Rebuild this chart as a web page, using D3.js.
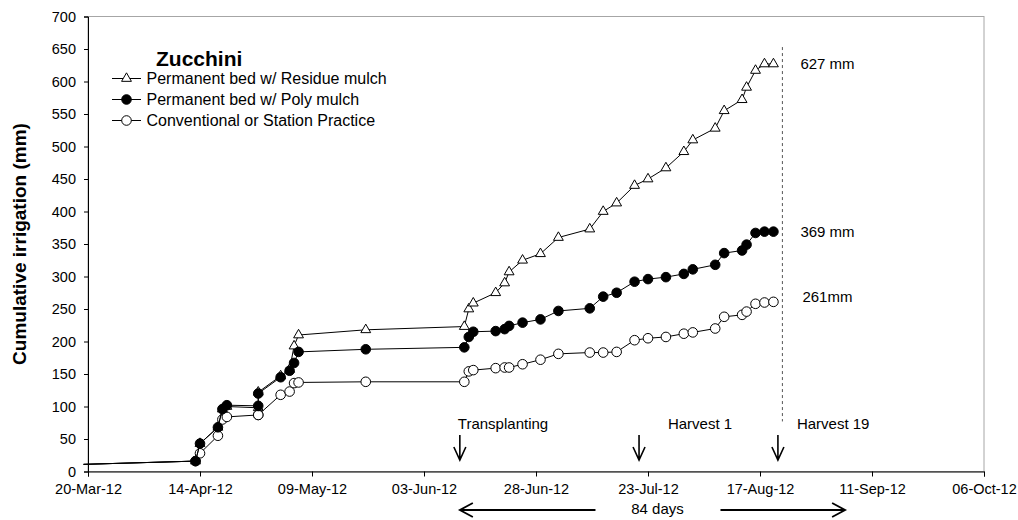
<!DOCTYPE html>
<html>
<head>
<meta charset="utf-8">
<script src="https://cdn.jsdelivr.net/npm/d3@7"></script>
<style>
  body { margin: 0; background: #fff; }
  text { font-family: "Liberation Sans", Arial, sans-serif; }
</style>
</head>
<body>
<div id="chart"></div>
<script>
const width = 1018
const height = 520
const margin = { top: 16.5, bottom: 48.5, left: 88, right: 34 }

// irrigation dates (the first one lies just before the axis start)
const dates = ["2012-03-19", "2012-04-13", "2012-04-14", "2012-04-18", "2012-04-19", "2012-04-20",
  "2012-04-27", "2012-04-27", "2012-05-02", "2012-05-04", "2012-05-05", "2012-05-06", "2012-05-21",
  "2012-06-12", "2012-06-13", "2012-06-14", "2012-06-19", "2012-06-21", "2012-06-22", "2012-06-25",
  "2012-06-29", "2012-07-03", "2012-07-10", "2012-07-13", "2012-07-16", "2012-07-20", "2012-07-23",
  "2012-07-27", "2012-07-31", "2012-08-02", "2012-08-07", "2012-08-09", "2012-08-13", "2012-08-14",
  "2012-08-16", "2012-08-18", "2012-08-20"]

const residue = [11, 16, 43, 68, 96, 100, 98, 122, 147, 157, 193, 210, 218, 223, 250, 259, 275, 290,
  307, 325, 335, 360, 373, 400, 413, 440, 450, 467, 492, 510, 528, 555, 572, 591, 617, 627, 627]
const poly = [11, 16, 43, 68, 96, 102, 101, 120, 145, 155, 167, 184, 188, 191, 207, 215, 216, 219,
  224, 229, 234, 247, 251, 269, 275, 292, 296, 299, 304, 311, 318, 336, 340, 349, 367, 369, 369]
const conventional = [11, 16, 28, 55, 80, 84, 87, 87, 118, 123, 136, 137, 138, 138, 154, 156, 159, 160,
  160, 165, 172, 181, 183, 183, 184, 202, 205, 207, 212, 214, 220, 238, 241, 246, 258, 260, 261]

const seriesNames = ["Permanent bed w/ Residue mulch", "Permanent bed w/ Poly mulch", "Conventional or Station Practice"]

const xTicks = ["2012-03-20", "2012-04-14", "2012-05-09", "2012-06-03", "2012-06-28", "2012-07-23",
  "2012-08-17", "2012-09-11", "2012-10-06"]
const yTicks = [0, 50, 100, 150, 200, 250, 300, 350, 400, 450, 500, 550, 600, 650, 700]

const eventLabels = ["Transplanting", "Harvest 1", "Harvest 19"]
const eventDates = ["2012-06-11", "2012-07-21", "2012-08-21"]
const endLabels = ["627 mm", "369 mm", "261mm"]
const endValues = [627, 369, 261]
const lastDay = "2012-08-22"
const spanDates = ["2012-06-11", "2012-09-05"]
const spanLabel = "84 days"

const parse = d3.utcParse("%Y-%m-%d")

const svg = d3.select("#chart")
  .append("svg")
  .attr("width", width)
  .attr("height", height)
  .style("background", "#fff")

const x = d3.scaleUtc()
  .domain([parse("2012-03-20"), parse("2012-10-06")])
  .range([margin.left, width - margin.right])
const y = d3.scaleLinear()
  .domain([0, 700])
  .range([height - margin.bottom, margin.top])

// plot frame (gray top/right)
svg.append("rect")
  .attr("x", margin.left).attr("y", margin.top)
  .attr("width", width - margin.left - margin.right)
  .attr("height", height - margin.top - margin.bottom)
  .attr("fill", "none").attr("stroke", "#a6a6a6")

// axes
const xAxis = d3.axisBottom(x)
  .tickValues(xTicks.map(parse))
  .tickFormat(d3.utcFormat("%d-%b-%y"))
  .tickSizeOuter(0).tickSize(5).tickPadding(7)
const yAxis = d3.axisLeft(y)
  .tickValues(yTicks)
  .tickSizeOuter(0).tickSize(4).tickPadding(8)

svg.append("g")
  .attr("transform", `translate(0, ${height - margin.bottom})`)
  .call(xAxis)
  .call(g => g.selectAll("text").attr("font-size", 14.5).attr("fill", "#000"))
  .call(g => g.selectAll("line,path").attr("stroke", "#000"))

svg.append("g")
  .attr("transform", `translate(${margin.left}, 0)`)
  .call(yAxis)
  .call(g => g.selectAll("text").attr("font-size", 14.5).attr("fill", "#000"))
  .call(g => g.selectAll("line,path").attr("stroke", "#000"))

svg.append("text")
  .attr("transform", `translate(26, ${(margin.top + height - margin.bottom) / 2}) rotate(-90)`)
  .attr("text-anchor", "middle")
  .attr("font-size", 19).attr("font-weight", "bold")
  .text("Cumulative irrigation (mm)")

// series
const toPoints = vals => vals.map((v, i) => ({ date: parse(dates[i]), value: v }))
const line = d3.line().x(d => x(d.date)).y(d => y(d.value))
const triangle = d3.symbol().type(d3.symbolTriangle).size(42)

const series = [
  { name: seriesNames[2], pts: toPoints(conventional), mark: "open" },
  { name: seriesNames[0], pts: toPoints(residue), mark: "tri" },
  { name: seriesNames[1], pts: toPoints(poly), mark: "filled" },
]

function drawMark(sel, mark) {
  if (mark === "tri") {
    sel.append("path").attr("d", triangle)
      .attr("fill", "#fff").attr("stroke", "#000").attr("stroke-width", 1)
  } else {
    sel.append("circle").attr("r", 4.8)
      .attr("fill", mark === "filled" ? "#000" : "#fff")
      .attr("stroke", "#000").attr("stroke-width", 1)
  }
}

series.forEach(s => {
  const g = svg.append("g")
  g.append("path").datum(s.pts)
    .attr("fill", "none").attr("stroke", "#000").attr("stroke-width", 1)
    .attr("d", line)
  g.selectAll("g.m").data(s.pts.slice(1)).join("g")
    .attr("class", "m")
    .attr("transform", d => `translate(${x(d.date)}, ${y(d.value)})`)
    .call(sel => drawMark(sel, s.mark))
})

// title and legend
svg.append("text")
  .attr("x", 156).attr("y", 65.5)
  .attr("font-size", 21).attr("font-weight", "bold")
  .text("Zucchini")

const legendMarks = ["tri", "filled", "open"]
legendMarks.forEach((m, i) => {
  const ly = 78.5 + i * 21
  svg.append("line").attr("x1", 112).attr("x2", 141).attr("y1", ly).attr("y2", ly)
    .attr("stroke", "#000")
  const g = svg.append("g").attr("transform", `translate(126.5, ${ly})`)
  drawMark(g, m)
  svg.append("text").attr("x", 146.5).attr("y", ly + 5.5)
    .attr("font-size", 16).text(seriesNames[i])
})

// last irrigation dashed line
const xd = x(parse(lastDay))
svg.append("line")
  .attr("x1", xd).attr("x2", xd).attr("y1", y(653)).attr("y2", y(77))
  .attr("stroke", "#555").attr("stroke-dasharray", "3,3")

endLabels.forEach((t, i) => {
  svg.append("text")
    .attr("x", xd + 18 + (i === 2 ? 2 : 0))
    .attr("y", y(endValues[i]) + 5 - (i === 2 ? 5 : 0))
    .attr("font-size", 15).text(t)
})

// events
const eventAnchor = ["start", "middle", "start"]
const eventDx = [-2, 61, 19]
eventDates.forEach((d, i) => {
  const ex = x(parse(d))
  svg.append("path")
    .attr("d", `M${ex},435 V460 M${ex - 6},447 L${ex},460 L${ex + 6},447`)
    .attr("fill", "none").attr("stroke", "#000").attr("stroke-width", 1.6)
  svg.append("text")
    .attr("x", ex + eventDx[i]).attr("y", 429)
    .attr("text-anchor", eventAnchor[i])
    .attr("font-size", 15).text(eventLabels[i])
})

// 84 days span arrow
const s1 = x(parse(spanDates[0])), s2 = x(parse(spanDates[1]))
const mid = (s1 + s2) / 2 + 5
const ay = 510
svg.append("path")
  .attr("d", `M${s1},${ay} H${mid - 62} M${s1 + 13},${ay - 7} L${s1},${ay} L${s1 + 13},${ay + 7}
              M${mid + 63},${ay} H${s2} M${s2 - 13},${ay - 7} L${s2},${ay} L${s2 - 13},${ay + 7}`)
  .attr("fill", "none").attr("stroke", "#000").attr("stroke-width", 1.8)
svg.append("text")
  .attr("x", mid).attr("y", 514)
  .attr("text-anchor", "middle").attr("font-size", 15)
  .text(spanLabel)
</script>
</body>
</html>
